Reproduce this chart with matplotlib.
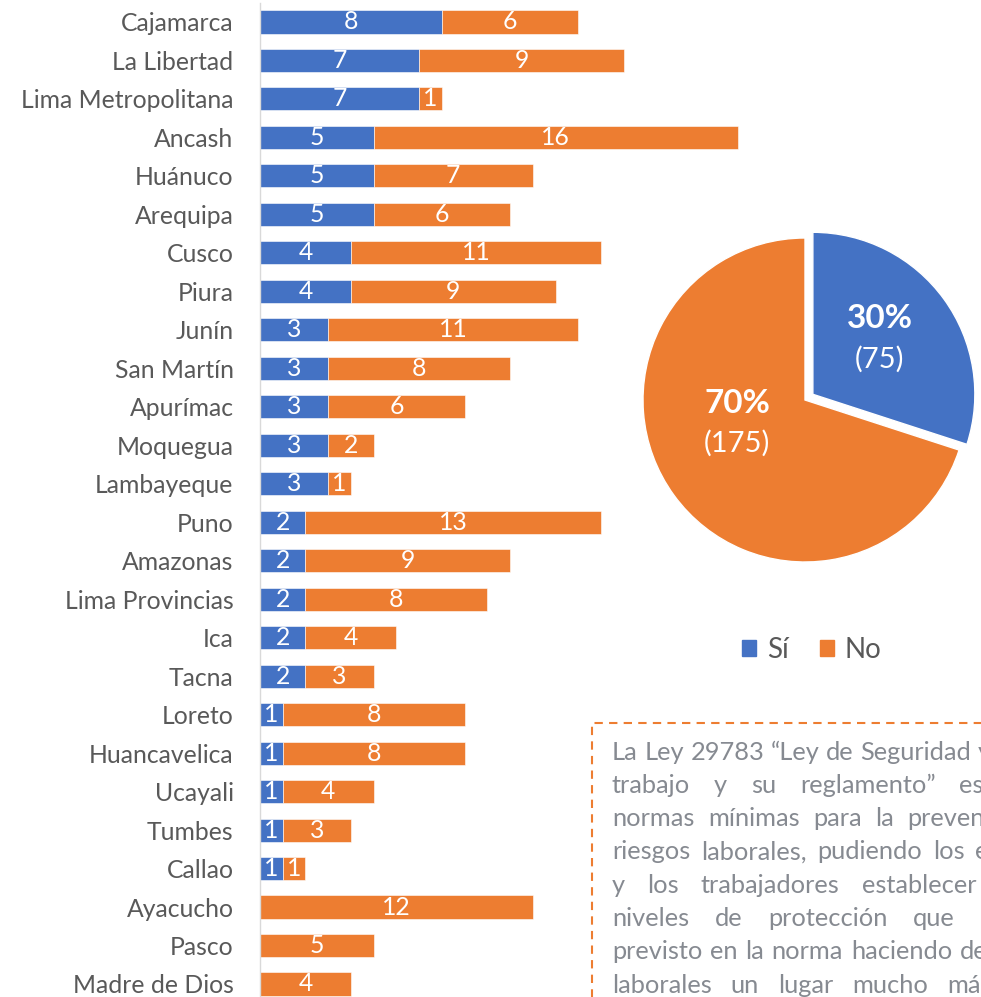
import matplotlib
matplotlib.use("Agg")
import matplotlib.pyplot as plt
from matplotlib.patches import Patch, Rectangle

plt.rcParams['font.family'] = ['Lato', 'DejaVu Sans']

regions = ["Cajamarca", "La Libertad", "Lima Metropolitana", "Ancash", "Huánuco",
           "Arequipa", "Cusco", "Piura", "Junín", "San Martín", "Apurímac",
           "Moquegua", "Lambayeque", "Puno", "Amazonas", "Lima Provincias", "Ica",
           "Tacna", "Loreto", "Huancavelica", "Ucayali", "Tumbes", "Callao",
           "Ayacucho", "Pasco", "Madre de Dios"]
si = [8, 7, 7, 5, 5, 5, 4, 4, 3, 3, 3, 3, 3, 2, 2, 2, 2, 2, 1, 1, 1, 1, 1, 0, 0, 0]
no = [6, 9, 1, 16, 7, 6, 11, 9, 11, 8, 6, 2, 1, 13, 9, 8, 4, 3, 8, 8, 4, 3, 1, 12, 5, 4]
series_names = ["Sí", "No"]

note_lines = [
    "La Ley 29783 “Ley de Seguridad y Salud en el",
    "trabajo y su reglamento” establece las",
    "normas mínimas para la prevención de los",
    "riesgos laborales, pudiendo los empleadores",
    "y los trabajadores establecer libremente",
    "niveles de protección que mejoren lo",
    "previsto en la norma haciendo de los centros",
    "laborales un lugar mucho más seguro y",
]

BLUE = "#4472C4"
ORANGE = "#ED7D31"
GREY = "#595959"
W, H = 981, 997
FS = 17.8
NOTE_FS = 18.3

fig = plt.figure(figsize=(W / 100, H / 100), dpi=100)

def fx(px):
    return px / W

def fy(py):
    return 1 - py / H

# --- stacked bar chart ---
ax = fig.add_axes([fx(260), fy(1003.2), fx(523), (1003.2 - 2.76) / H])
y = list(range(len(regions)))
b1 = ax.barh(y, si, height=0.6, color=BLUE, edgecolor="white", linewidth=0.4)
b2 = ax.barh(y, no, left=si, height=0.6, color=ORANGE, edgecolor="white", linewidth=0.4)
ax.bar_label(b1, labels=[str(v) if v else "" for v in si], label_type="center",
             color="white", fontsize=FS)
ax.bar_label(b2, labels=[str(v) if v else "" for v in no], label_type="center",
             color="white", fontsize=FS)
ax.set_ylim(len(regions) - 0.5, -0.5)
ax.set_xlim(0, 23)
ax.set_yticks(y)
ax.set_yticklabels(regions)
ax.tick_params(axis="y", length=0, pad=19, labelsize=FS, labelcolor=GREY)
ax.set_xticks([])
for s in ["top", "right", "bottom"]:
    ax.spines[s].set_visible(False)
ax.spines["left"].set_color("#d9d9d9")
ax.spines["left"].set_linewidth(1)
ax.patch.set_alpha(0)

# --- pie chart ---
r = 162
cx, cy = 805, 400
ax2 = fig.add_axes([fx(cx - r), fy(cy + r), 2 * r / W, 2 * r / H])
totals = [sum(si), sum(no)]
wedges, _ = ax2.pie(totals, colors=[BLUE, ORANGE], startangle=90, counterclock=False,
                    explode=[0.06, 0], wedgeprops=dict(edgecolor="white", linewidth=1))
for w_ in wedges:
    w_.set_clip_on(False)
ax2.set_xlim(-1, 1)
ax2.set_ylim(-1, 1)
ax2.set_aspect("auto")
pct = [round(100 * t / sum(totals)) for t in totals]
label_pos = [(0.46, 0.50), (-0.42, -0.02)]
for (lx, ly), p, t in zip(label_pos, pct, totals):
    ax2.text(lx, ly, f"{p}%", ha="center", va="center", color="white",
             fontsize=24, fontweight="bold")
    ax2.text(lx, ly - 0.25, f"({t})", ha="center", va="center", color="white",
             fontsize=21)

# --- legend ---
handles = [Patch(color=BLUE), Patch(color=ORANGE)]
fig.legend(handles, series_names, loc="center", bbox_to_anchor=(fx(812), fy(650)),
           ncol=2, frameon=False, handlelength=0.5, handleheight=0.5,
           handletextpad=0.4, columnspacing=1.1, fontsize=20, labelcolor=GREY)

# --- note box ---
box = Rectangle((fx(592), fy(1100)), fx(600), (1100 - 723) / H, transform=fig.transFigure,
                fill=False, edgecolor=ORANGE, linewidth=1.5, linestyle=(0, (4, 3)))
fig.patches.append(box)

renderer = fig.canvas.get_renderer()
x0 = 612
line_y0, line_dy = 752, 33.3
note_color = "#868a91"
all_words, all_widths = [], []
for line in note_lines:
    words = line.split(" ")
    ts = [fig.text(0, 0, w_, fontsize=NOTE_FS, color=note_color, va="center", ha="left")
          for w_ in words]
    all_words.append(ts)
    all_widths.append([t.get_window_extent(renderer).width for t in ts])
probe = fig.text(0, 0, "a a", fontsize=NOTE_FS)
probe2 = fig.text(0, 0, "aa", fontsize=NOTE_FS)
space_w = probe.get_window_extent(renderer).width - probe2.get_window_extent(renderer).width
probe.remove()
probe2.remove()
natural = [sum(ws) + space_w * (len(ws) - 1) for ws in all_widths]
x1 = x0 + max(natural)
for i, (ts, widths) in enumerate(zip(all_words, all_widths)):
    gap = (x1 - x0 - sum(widths)) / (len(ts) - 1)
    xp = x0
    yy = fy(line_y0 + i * line_dy)
    for t, wd in zip(ts, widths):
        t.set_position((fx(xp), yy))
        xp += wd + gap

fig.savefig("out.png", dpi=100)
